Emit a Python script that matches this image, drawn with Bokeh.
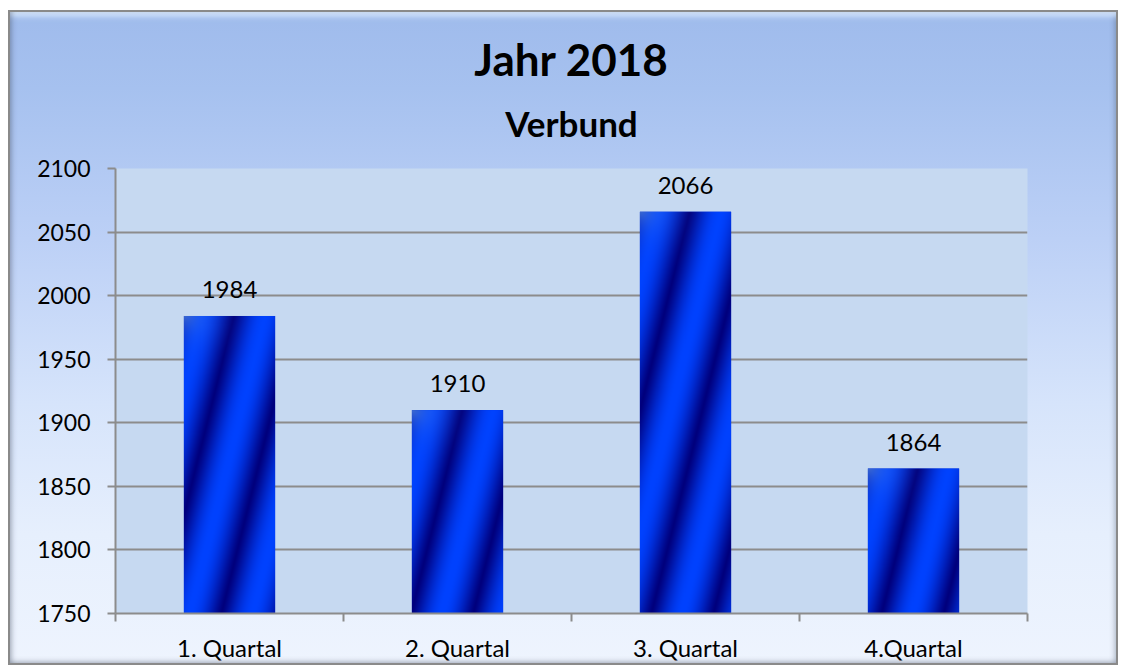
import numpy as np
from bokeh.plotting import figure
from bokeh.models import (Range1d, FixedTicker, ColumnDataSource, LabelSet, Title)
from bokeh.core.properties import value
from bokeh.embed import file_html
from bokeh.resources import INLINE

# ---- data ----
categories = ["1. Quartal", "2. Quartal", "3. Quartal", "4.Quartal"]
values = [1984, 1910, 2066, 1864]
y_ticks = [1750, 1800, 1850, 1900, 1950, 2000, 2050, 2100]
title_text = "Jahr 2018"
subtitle_text = "Verbund"

FONT = "Lato"
GREY = "#8c8c8c"
y_min, y_max = y_ticks[0], y_ticks[-1]
bar_w = 0.4

W, H = 1110, 655
ML, MR, MT, MB = 107, 91, 158, 52

p = figure(width=W, height=H, output_backend="svg", toolbar_location=None,
           x_range=Range1d(0.5, len(categories) + 0.5),
           y_range=Range1d(y_min, y_max),
           min_border_left=ML, min_border_right=MR,
           min_border_top=MT, min_border_bottom=MB)

p.border_fill_alpha = 0
p.outline_line_color = None
p.background_fill_color = "#c6d9f1"
p.styles = {
    "margin-left": "8px",
    "margin-top": "10px",
    "background": "linear-gradient(to bottom, #9fbbec 0%, #a6c1ef 12%, #bcd0f6 35%, #d6e4fb 60%, #e6effd 80%, #eef4fe 100%)",
    "box-shadow": "inset 0 0 0 2px #8a8a8a, inset 4px 0 5px rgba(60,70,90,0.35), inset 0 10px 6px -4px rgba(225,240,255,0.9), inset -4px 0 5px rgba(60,70,90,0.25), inset 0 -4px 5px rgba(60,70,90,0.25)",
}

xs = [i + 1 for i in range(len(categories))]
src = ColumnDataSource(dict(x=xs, top=values, cat=categories,
                            lbl=[str(v) for v in values]))

# base bars
p.vbar(x="x", top="top", bottom=y_min, width=bar_w, source=src,
       fill_color="#0030d8", line_color=None)

# stripe texture for each bar (decorative gradient)
frame_w = W - ML - MR
frame_h = H - MT - MB
px_x = frame_w / len(categories)
px_y = frame_h / (y_max - y_min)
dark = np.array([0, 0, 125], float)
bright = np.array([0, 66, 255], float)
imgs, ix, iy, idw, idh = [], [], [], [], []
for xc, v in zip(xs, values):
    wpx = int(round(bar_w * px_x))
    hpx = int(round((v - y_min) * px_y))
    xx, yy = np.meshgrid(np.arange(wpx) + 0.5, np.arange(hpx) + 0.5)  # yy = down from top
    u = xx + yy / 4.0
    ph = ((u - 50.0) / 62.0) % 1.0
    t = 0.5 - 0.5 * np.cos(2 * np.pi * ph)
    t = t ** 0.6
    rgb = dark[None, None, :] + (bright - dark)[None, None, :] * t[..., None]
    # highlight at top-left corner
    d = np.sqrt(xx ** 2 + (yy * 1.2) ** 2)
    hl = np.clip(np.exp(-d / 18.0), 0, 1)[..., None] * 0.7
    rgb = rgb * (1 - hl) + np.array([90, 140, 215])[None, None, :] * hl
    rgb = np.clip(rgb, 0, 255).astype(np.uint32)
    rgba = (255 << 24) | (rgb[..., 2] << 16) | (rgb[..., 1] << 8) | rgb[..., 0]
    imgs.append(rgba[::-1].astype(np.uint32))
    ix.append(xc - bar_w / 2)
    iy.append(y_min)
    idw.append(bar_w)
    idh.append(v - y_min)
p.image_rgba(image=imgs, x=ix, y=iy, dw=idw, dh=idh)

# value labels
p.add_layout(LabelSet(x="x", y="top", text="lbl", source=src, y_offset=18,
                      text_align="center", text_baseline="bottom",
                      text_font=value(FONT), text_font_size=value("24px"),
                      text_color="black"))

# axes
p.yaxis.ticker = FixedTicker(ticks=y_ticks)
p.yaxis.major_label_text_font = FONT
p.yaxis.major_label_text_font_size = "23px"
p.yaxis.major_label_text_color = "black"
p.yaxis.major_label_standoff = 17
p.yaxis.major_tick_in = 0
p.yaxis.major_tick_out = 8
p.yaxis.minor_tick_line_color = None
p.yaxis.axis_line_color = GREY
p.yaxis.axis_line_width = 2
p.yaxis.major_tick_line_color = GREY
p.yaxis.major_tick_line_width = 2

p.xaxis.ticker = FixedTicker(ticks=xs, minor_ticks=[x - 0.5 for x in xs] + [xs[-1] + 0.5])
p.xaxis.major_label_overrides = {x: c for x, c in zip(xs, categories)}
p.xaxis.major_label_text_font = FONT
p.xaxis.major_label_text_font_size = "24px"
p.xaxis.major_label_text_color = "black"
p.xaxis.major_label_standoff = 11
p.xaxis.major_tick_line_color = None
p.xaxis.major_tick_in = 0
p.xaxis.major_tick_out = 8
p.xaxis.minor_tick_in = 0
p.xaxis.minor_tick_out = 8
p.xaxis.minor_tick_line_color = GREY
p.xaxis.minor_tick_line_width = 2
p.xaxis.axis_line_color = GREY
p.xaxis.axis_line_width = 2

p.xgrid.grid_line_color = None
p.ygrid.grid_line_color = GREY
p.ygrid.grid_line_width = 2

# titles
p.add_layout(Title(text=subtitle_text, align="center", text_font=FONT,
                   text_font_size="35px", text_font_style="bold",
                   text_color="black", standoff=50), "above")
p.add_layout(Title(text=title_text, align="center", text_font=FONT,
                   text_font_size="44px", text_font_style="bold",
                   text_color="black", standoff=-20), "above")

open("out.html", "w").write(file_html(p, INLINE))
